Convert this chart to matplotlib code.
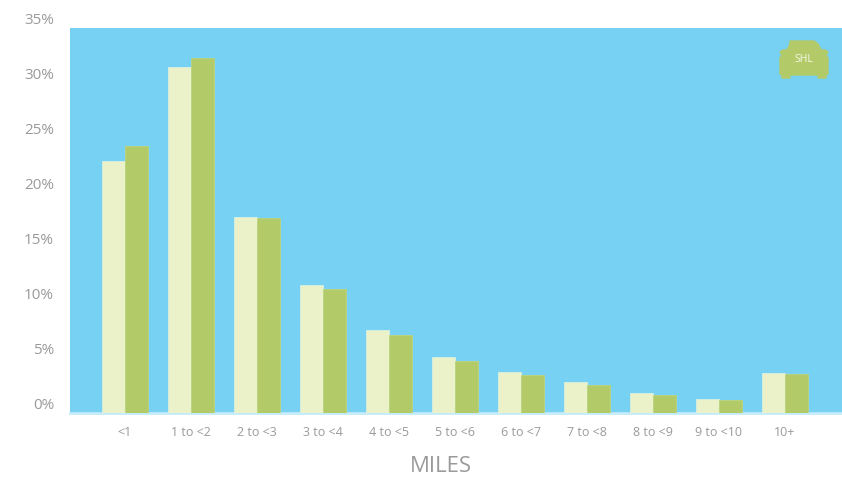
import matplotlib.pyplot as plt
import matplotlib.patches as mpatches
import numpy as np

# share of trips by distance band
categories = ['<1', '1 to <2', '2 to <3', '3 to <4', '4 to <5', '5 to <6',
              '6 to <7', '7 to <8', '8 to <9', '9 to <10', '10+']
series_a = [22.9, 31.5, 17.8, 11.65, 7.54, 5.14, 3.75, 2.82, 1.84, 1.27, 3.66]
series_b = [24.3, 32.3, 17.7, 11.26, 7.08, 4.72, 3.45, 2.54, 1.66, 1.18, 3.54]
yticks = [0, 5, 10, 15, 20, 25, 30, 35]

W, H = 842, 482
bg_blue = '#77d1f3'
light = '#ebf2c9'
green = '#b3ca68'
grey = '#9a9a9a'

plt.rcParams['font.family'] = ['Open Sans', 'DejaVu Sans']

fig = plt.figure(figsize=(W / 100, H / 100), dpi=100)
ax = fig.add_axes([70 / W, (H - 413.3) / H, 772 / W, (413.3 - 28) / H])
ax.set_facecolor(bg_blue)

x = np.arange(len(categories))
bw = 0.348
ax.bar(x - bw / 2, series_a, width=bw, color=light, edgecolor='#d9f0e0', linewidth=0.6, zorder=3)
ax.bar(x + bw / 2, series_b, width=bw, color=green, edgecolor='#bcd57a', linewidth=0.6, zorder=3)

ax.set_xlim(-0.833, 10.864)
ax.set_ylim(0, 35)

for s in ['top', 'right', 'left']:
    ax.spines[s].set_visible(False)
ax.spines['bottom'].set_color('#c4ebf9')
ax.spines['bottom'].set_linewidth(2)

ax.set_xticks(x)
ax.set_xticklabels(categories, fontsize=9, color=grey)
ax.tick_params(axis='x', length=0, pad=9)
ax.set_yticks(yticks)
ax.set_yticklabels([])
ax.tick_params(axis='y', length=0)
# percent labels sit a little above their value
for v in yticks:
    ax.annotate(f'{v}%', xy=(0, v), xycoords=('axes fraction', 'data'),
                xytext=(-16, 8), textcoords='offset pixels',
                ha='right', va='center', fontsize=11, color=grey)

fig.text(441 / W, 1 - 467 / H, 'MILES', ha='center', va='center', fontsize=16, color=grey)

# car badge in the top right corner
logo = fig.add_axes([770 / W, 1 - 85 / H, 66 / W, 50 / H])
logo.set_xlim(770, 836)
logo.set_ylim(85, 35)
logo.axis('off')
car = [(790, 41), (814, 41), (818, 44), (821, 50), (825, 50), (828, 52), (826, 55),
       (828, 58), (828, 74), (826, 75), (826, 78), (818, 78), (818, 75), (790, 75),
       (790, 78), (782, 78), (782, 75), (780, 74), (780, 58), (782, 55), (780, 52),
       (783, 50), (787, 50), (790, 44)]
logo.add_patch(mpatches.Polygon(car, closed=True, color=green, joinstyle='round'))
logo.text(804, 59, 'SHL', ha='center', va='center', fontsize=7.5, color='#f4f8e6')

fig.savefig('out.png', dpi=100)
